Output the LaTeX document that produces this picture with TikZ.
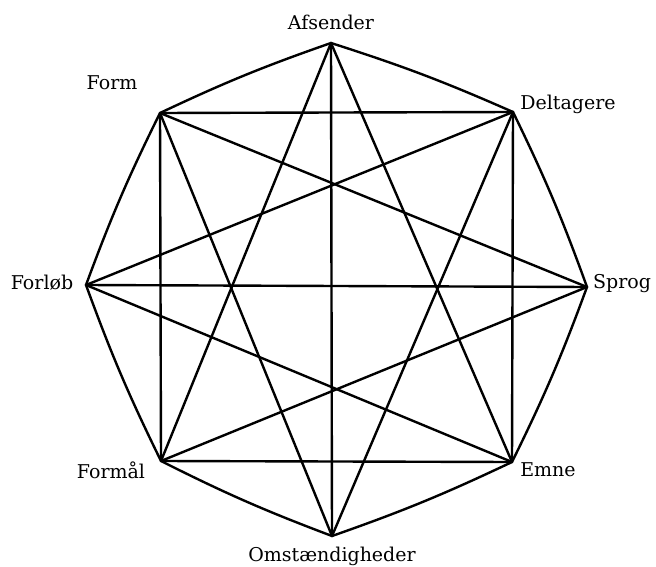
\documentclass[tikz,border=0pt]{standalone}
\usepackage{fontspec}
\setmainfont{DejaVu Serif}
\begin{document}
\begin{tikzpicture}[x=1pt,y=-1pt,line width=2.4pt,line join=round,line cap=round,
  lbl/.style={font=\fontsize{19}{21}\selectfont, inner sep=0pt},
  side/.style={bend left=3}]
\useasboundingbox (0,0) rectangle (656,567);
\coordinate (A) at (331,43);
\coordinate (D) at (513,112);
\coordinate (S) at (587,287);
\coordinate (E) at (512,462);
\coordinate (O) at (332,536);
\coordinate (Fm) at (161,461);
\coordinate (Fl) at (86,285);
\coordinate (F) at (160,113);
% labels
\node[lbl] (lA) at (331,22) {Afsender};
\node[lbl] (lF) at (112,83) {Form};
\node[lbl] (lD) at (568,104) {Deltagere};
\node[lbl] (lS) at (622,284) {Sprog};
\node[lbl] (lE) at (548,470) {Emne};
\node[lbl] (lO) at (332,556) {Omstændigheder};
\node[lbl] (lFm) at (111,470) {Formål};
\node[lbl] (lFl) at (42,283) {Forløb};
% octagon
\draw (A) to[side] (D) to[side] (S) to[side] (E) to[side] (O) to[side] (Fm) to[side] (Fl) to[side] (F) to[side] (A);
% square
\draw (F) -- (D) -- (E) -- (Fm) -- cycle;
% cross
\draw (A) -- (O);
\draw (Fl) -- (S);
% star
\draw (A) -- (E);
\draw (A) -- (Fm);
\draw (D) -- (O);
\draw (D) -- (Fl);
\draw (S) -- (Fm);
\draw (S) -- (F);
\draw (E) -- (Fl);
\draw (O) -- (F);
\end{tikzpicture}
\end{document}
